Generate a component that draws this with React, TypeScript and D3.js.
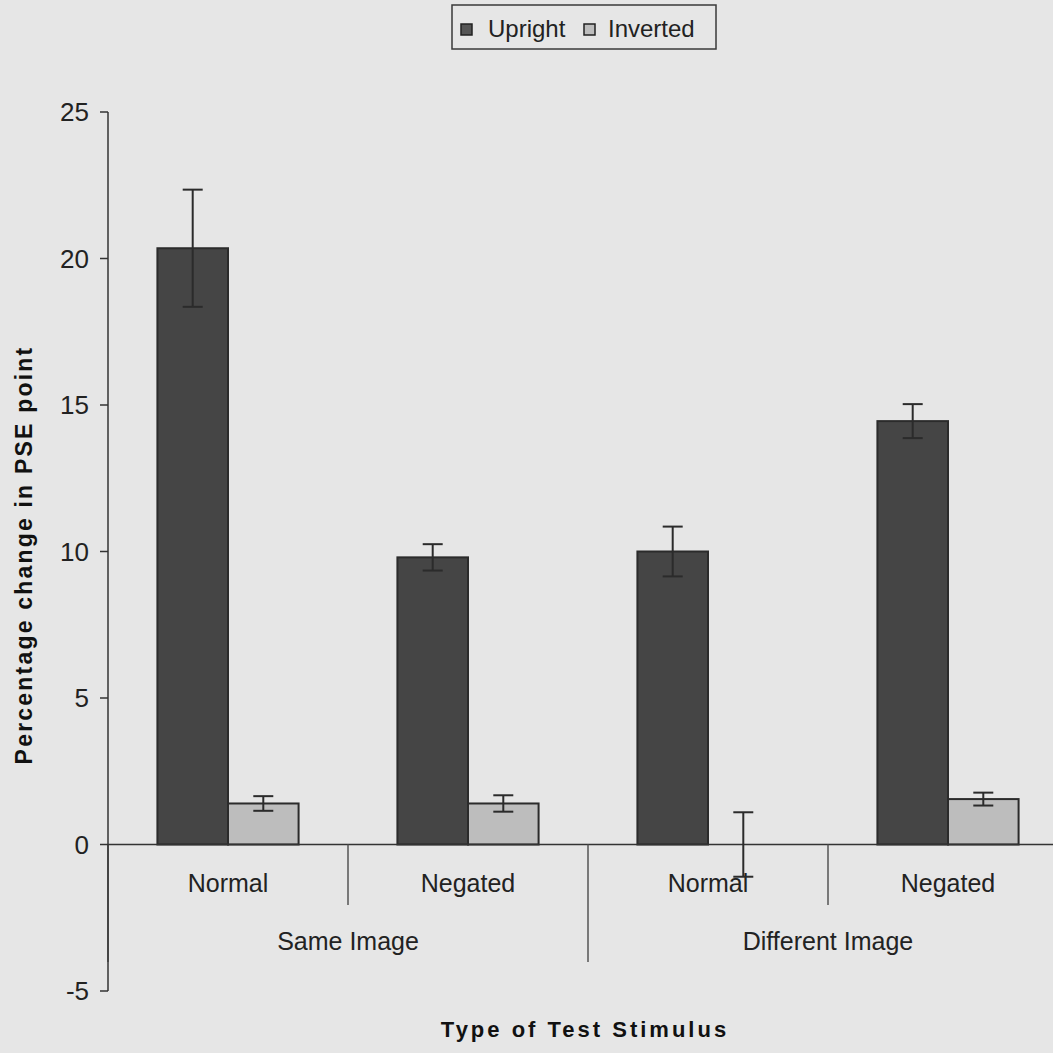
import React from "react";
import * as d3 from "d3";

// condition labels under each pair of bars
const conditions = ["Normal", "Negated", "Normal", "Negated"];
// outer grouping, two conditions each
const groups = ["Same Image", "Different Image"];
const series = ["Upright", "Inverted"];

const uprightValues = [20.35, 9.8, 10.0, 14.45];
const uprightErrors = [2.0, 0.45, 0.85, 0.58];
const invertedValues = [1.4, 1.4, 0.0, 1.55];
const invertedErrors = [0.25, 0.28, 1.1, 0.22];

const yTicks = [-5, 0, 5, 10, 15, 20, 25];

const W = 1053;
const H = 1053;
const FONT = "Arial, 'Liberation Sans', Helvetica, sans-serif";

const fills: Record<string, string> = { Upright: "#454545", Inverted: "#bdbdbd" };

export default function App() {
    const y = d3.scaleLinear().domain([-5, 25]).range([991, 112]);
    const x0 = d3.scaleBand<number>()
        .domain(d3.range(conditions.length))
        .range([108, 1068])
        .padding(0);
    const x1 = d3.scaleBand<string>()
        .domain(series)
        .range([0, x0.bandwidth()])
        .paddingInner(0)
        .paddingOuter(0.7);

    const values: Record<string, number[]> = { Upright: uprightValues, Inverted: invertedValues };
    const errors: Record<string, number[]> = { Upright: uprightErrors, Inverted: invertedErrors };

    const axisX = x0.range()[0];
    const zeroY = y(0);
    const perGroup = conditions.length / groups.length;

    return (
        <svg width={W} height={H} style={{ position: "absolute", left: 0, top: 0, background: "#e6e6e6" }}
             fontFamily={FONT}>
            <rect x={0} y={0} width={W} height={H} fill="#e6e6e6" />

            {/* legend */}
            <g>
                <rect x={452} y={5} width={264} height={44} fill="none" stroke="#3a3a3a" strokeWidth={1.5} />
                <rect x={461} y={24} width={11} height={11} fill="#555" stroke="#222" strokeWidth={1.5} />
                <text x={488} y={37} fontSize={24} fill="#222">Upright</text>
                <rect x={584} y={24} width={11} height={11} fill="#bdbdbd" stroke="#222" strokeWidth={1.5} />
                <text x={608} y={37} fontSize={24} fill="#222">Inverted</text>
            </g>

            {/* bars */}
            {conditions.map((_, i) => (
                <g key={i} transform={`translate(${x0(i)},0)`}>
                    {series.map(s => {
                        const v = values[s][i];
                        const top = y(Math.max(0, v));
                        const h = Math.abs(y(v) - zeroY);
                        return h > 0.5 ? (
                            <rect key={s} x={x1(s)} y={top} width={x1.bandwidth()} height={h}
                                  fill={fills[s]} stroke="#2b2b2b" strokeWidth={2} />
                        ) : null;
                    })}
                </g>
            ))}

            {/* x axis line at zero */}
            <line x1={axisX} x2={W} y1={zeroY} y2={zeroY} stroke="#333" strokeWidth={1.5} />

            {/* category ticks */}
            {d3.range(conditions.length + 1).map(i => {
                const xx = axisX + i * x0.step();
                const outer = i % perGroup === 0;
                return <line key={i} x1={xx} x2={xx} y1={zeroY} y2={outer ? 962 : 905}
                             stroke="#555" strokeWidth={1.5} />;
            })}

            {/* condition labels */}
            {conditions.map((c, i) => (
                <text key={i} x={(x0(i) ?? 0) + x0.bandwidth() / 2} y={892} fontSize={25}
                      textAnchor="middle" fill="#222">{c}</text>
            ))}

            {/* group labels */}
            {groups.map((g, gi) => (
                <text key={g} x={axisX + (gi + 0.5) * perGroup * x0.step()} y={950} fontSize={25}
                      textAnchor="middle" fill="#222">{g}</text>
            ))}

            {/* error bars */}
            {conditions.map((_, i) => (
                <g key={i} transform={`translate(${x0(i)},0)`}>
                    {series.map(s => {
                        const cx = (x1(s) ?? 0) + x1.bandwidth() / 2;
                        const v = values[s][i];
                        const e = errors[s][i];
                        return (
                            <g key={s} stroke="#2b2b2b" strokeWidth={2}>
                                <line x1={cx} x2={cx} y1={y(v + e)} y2={y(v - e)} />
                                <line x1={cx - 10} x2={cx + 10} y1={y(v + e)} y2={y(v + e)} />
                                <line x1={cx - 10} x2={cx + 10} y1={y(v - e)} y2={y(v - e)} />
                            </g>
                        );
                    })}
                </g>
            ))}

            {/* y axis */}
            <line x1={axisX} x2={axisX} y1={y(25)} y2={y(-5)} stroke="#333" strokeWidth={1.5} />
            {yTicks.map(t => (
                <g key={t}>
                    <line x1={axisX - 8} x2={axisX} y1={y(t)} y2={y(t)} stroke="#333" strokeWidth={1.5} />
                    <text x={89} y={y(t)} dy="0.36em" fontSize={26} textAnchor="end" fill="#222">{t}</text>
                </g>
            ))}

            {/* axis titles */}
            <text transform={`translate(32,555) rotate(-90)`} textAnchor="middle"
                  fontSize={23} fontWeight="bold" letterSpacing={2.2} fill="#111">
                Percentage change in PSE point
            </text>
            <text x={585} y={1037} textAnchor="middle" fontSize={22} fontWeight="bold" letterSpacing={3}
                  fill="#111">
                Type of Test Stimulus
            </text>
        </svg>
    );
}
